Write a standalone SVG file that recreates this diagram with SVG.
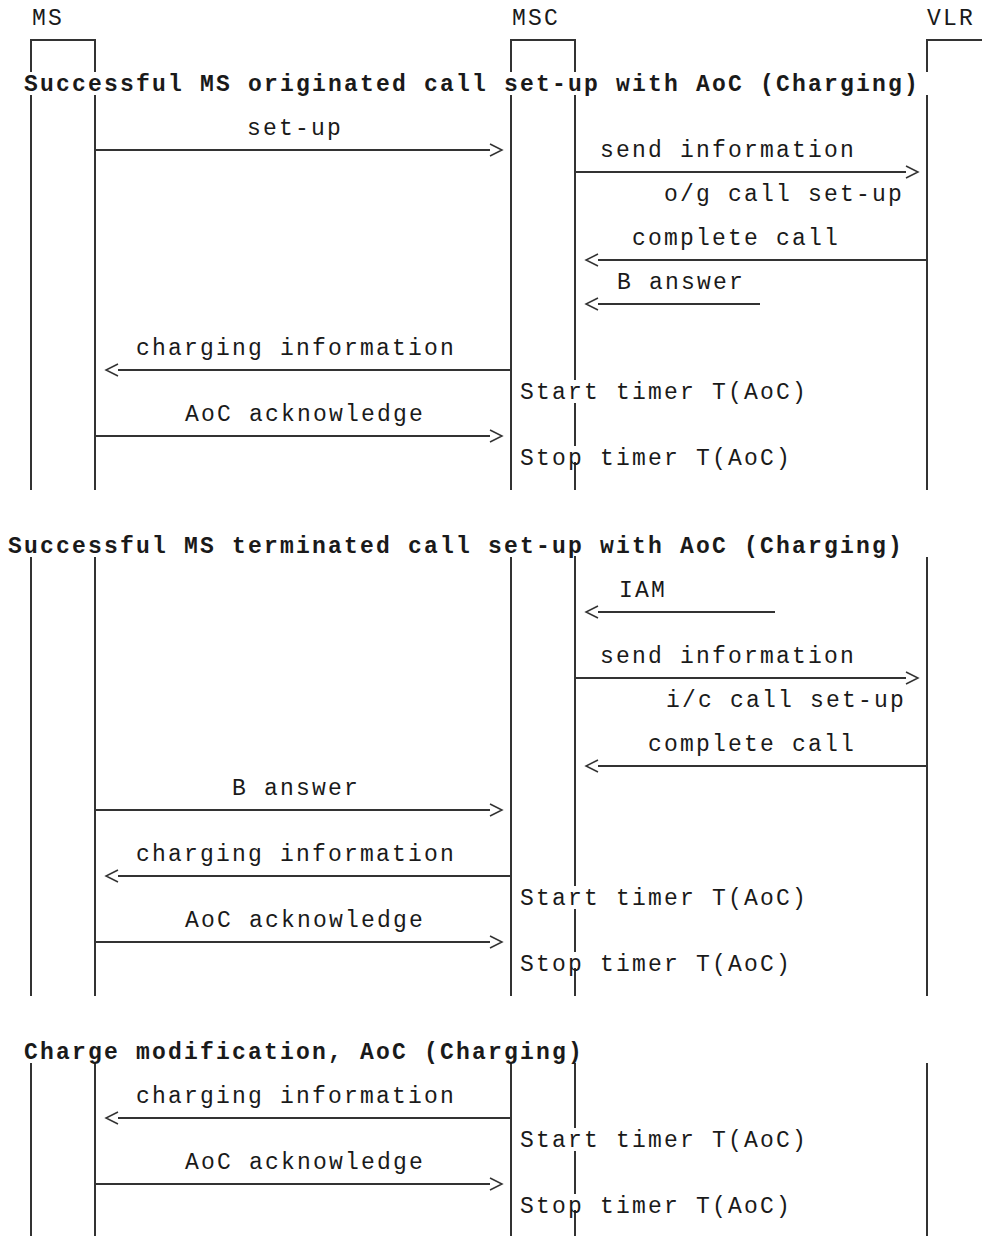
<svg xmlns="http://www.w3.org/2000/svg" width="982" height="1236" viewBox="0 0 982 1236">
<style>
  text { font-family: "Liberation Mono", "DejaVu Sans Mono", monospace; font-size: 23px; letter-spacing: 2.2px; fill: #1a1a1a; }
  .title { font-weight: bold; }
  .life { fill: none; stroke: #333; stroke-width: 2; }
  .msg { fill: none; stroke: #333; stroke-width: 2; }
  .bg { fill: #fff; }
</style>
<defs>
  <marker id="chev" markerUnits="userSpaceOnUse" markerWidth="16" markerHeight="16" refX="0" refY="6" orient="auto" overflow="visible">
    <path d="M0,0 L12,6 L0,12" fill="none" stroke="#333" stroke-width="1.5"/>
  </marker>
</defs>
<rect width="982" height="1236" fill="#fff"/>

<g id="node-MS">
  <text x="32" y="25">MS</text>
  <path class="life" d="M31,490 V40 H95 V490 M31,557 V996 M95,557 V996 M31,1063 V1236 M95,1063 V1236"/>
</g>
<g id="node-MSC">
  <text x="512" y="25">MSC</text>
  <path class="life" d="M511,490 V40 H575 V490 M511,557 V996 M575,556 V996 M511,1063 V1236 M575,1063 V1236"/>
</g>
<g id="node-VLR">
  <text x="927" y="25">VLR</text>
  <path class="life" d="M990,40 H927 V490 M927,557 V996 M927,1063 V1236"/>
</g>

<g id="connectors">
  <path class="msg" marker-end="url(#chev)" d="M95,150 H490"/>
  <path class="msg" marker-end="url(#chev)" d="M575,172 H906"/>
  <path class="msg" marker-end="url(#chev)" d="M927,260 H598"/>
  <path class="msg" marker-end="url(#chev)" d="M760,304 H598"/>
  <path class="msg" marker-end="url(#chev)" d="M511,370 H118"/>
  <path class="msg" marker-end="url(#chev)" d="M95,436 H490"/>

  <path class="msg" marker-end="url(#chev)" d="M775,612 H598"/>
  <path class="msg" marker-end="url(#chev)" d="M575,678 H906"/>
  <path class="msg" marker-end="url(#chev)" d="M927,766 H598"/>
  <path class="msg" marker-end="url(#chev)" d="M95,810 H490"/>
  <path class="msg" marker-end="url(#chev)" d="M511,876 H118"/>
  <path class="msg" marker-end="url(#chev)" d="M95,942 H490"/>

  <path class="msg" marker-end="url(#chev)" d="M511,1118 H118"/>
  <path class="msg" marker-end="url(#chev)" d="M95,1184 H490"/>
</g>

<g id="section-originated">
  <rect class="bg" x="22" y="72" width="912" height="23"/>
  <text class="title" x="24" y="91">Successful MS originated call set-up with AoC (Charging)</text>
  <text x="247" y="135">set-up</text>
  <text x="600" y="157">send information</text>
  <text x="664" y="201">o/g call set-up</text>
  <text x="632" y="245">complete call</text>
  <text x="617" y="289">B answer</text>
  <text x="136" y="355">charging information</text>
  <rect class="bg" x="518" y="380" width="290" height="23"/>
  <text x="520" y="399">Start timer T(AoC)</text>
  <text x="185" y="421">AoC acknowledge</text>
  <rect class="bg" x="518" y="446" width="274" height="16"/>
  <text x="520" y="465">Stop timer T(AoC)</text>
</g>

<g id="section-terminated">
  <text class="title" x="8" y="553">Successful MS terminated call set-up with AoC (Charging)</text>
  <text x="619" y="597">IAM</text>
  <text x="600" y="663">send information</text>
  <text x="666" y="707">i/c call set-up</text>
  <text x="648" y="751">complete call</text>
  <text x="232" y="795">B answer</text>
  <text x="136" y="861">charging information</text>
  <rect class="bg" x="518" y="886" width="290" height="23"/>
  <text x="520" y="905">Start timer T(AoC)</text>
  <text x="185" y="927">AoC acknowledge</text>
  <rect class="bg" x="518" y="952" width="274" height="16"/>
  <text x="520" y="971">Stop timer T(AoC)</text>
</g>

<g id="section-modification">
  <text class="title" x="24" y="1059">Charge modification, AoC (Charging)</text>
  <text x="136" y="1103">charging information</text>
  <rect class="bg" x="518" y="1128" width="290" height="23"/>
  <text x="520" y="1147">Start timer T(AoC)</text>
  <text x="185" y="1169">AoC acknowledge</text>
  <rect class="bg" x="518" y="1194" width="274" height="16"/>
  <text x="520" y="1213">Stop timer T(AoC)</text>
</g>
</svg>
